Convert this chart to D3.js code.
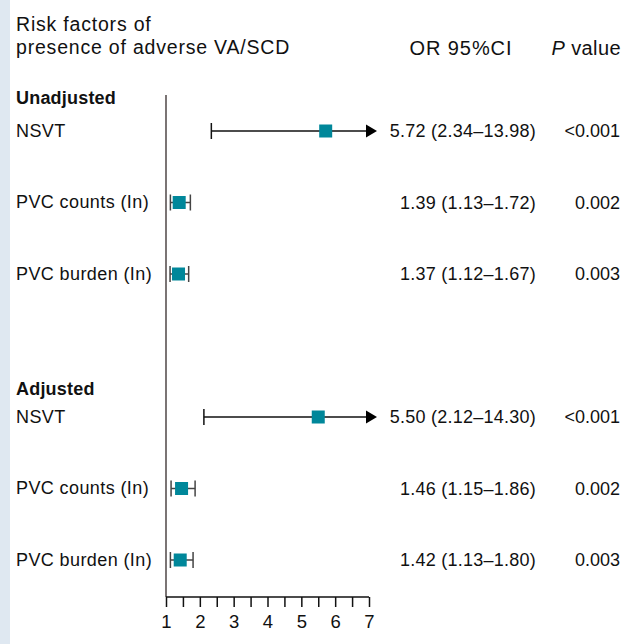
<!DOCTYPE html>
<html><head><meta charset="utf-8">
<script src="https://cdn.jsdelivr.net/npm/d3@7"></script>
<style>
html,body{margin:0;padding:0;background:#fff;}
svg{display:block;font-family:"Liberation Sans",Arial,sans-serif;}
</style></head>
<body>
<svg id="chart" width="622" height="644"></svg>
<script>
// ---- data ----
const groups = ["Unadjusted", "Adjusted"];
const factors = ["NSVT", "PVC counts (In)", "PVC burden (In)"];
const orUnadj = [5.72, 1.39, 1.37];
const lowUnadj = [2.34, 1.13, 1.12];
const highUnadj = [13.98, 1.72, 1.67];
const pUnadj = ["<0.001", "0.002", "0.003"];
const orAdj = [5.50, 1.46, 1.42];
const lowAdj = [2.12, 1.15, 1.13];
const highAdj = [14.30, 1.86, 1.80];
const pAdj = ["<0.001", "0.002", "0.003"];
const xTicks = [1, 1.5, 2, 2.5, 3, 3.5, 4, 4.5, 5, 5.5, 6, 6.5, 7];
const xTickLabels = ["1", "2", "3", "4", "5", "6", "7"];

const fmt = d3.format(".2f");
const rows = [];
[[orUnadj, lowUnadj, highUnadj, pUnadj], [orAdj, lowAdj, highAdj, pAdj]].forEach((g, gi) => {
  factors.forEach((f, i) => {
    rows.push({group: gi, label: f, or: g[0][i], lo: g[1][i], hi: g[2][i], p: g[3][i], idx: gi * 4 + i});
  });
});

const svg = d3.select("#chart");
const x = d3.scaleLinear().domain([1, 7]).range([166, 369]);
const y = d3.scaleLinear().domain([0, 6]).range([131, 560]);
const teal = "#00879a";
const ink = "#111";

// left strip
svg.append("rect").attr("x", 0).attr("y", 0).attr("width", 10).attr("height", 644).attr("fill", "#dfe8f1");

// title
const title = svg.append("text").attr("x", 16).attr("y", 31).attr("font-size", 19.5).attr("letter-spacing", 0.8).attr("fill", ink);
title.append("tspan").attr("x", 16).text("Risk factors of");
title.append("tspan").attr("x", 16).attr("dy", 22.5).text("presence of adverse VA/SCD");

svg.append("text").attr("x", 461).attr("y", 55).attr("font-size", 20).attr("letter-spacing", 0.9).attr("text-anchor", "middle").attr("fill", ink).text("OR 95%CI");
const ph = svg.append("text").attr("x", 621).attr("y", 55).attr("font-size", 20).attr("letter-spacing", 0.4).attr("text-anchor", "end").attr("fill", ink);
ph.append("tspan").attr("font-style", "italic").text("P");
ph.append("tspan").text(" value");

// group headers
const headerOffset = [27, 22];
groups.forEach((g, gi) => {
  svg.append("text").attr("x", 16).attr("y", y(gi * 4) - headerOffset[gi]).attr("font-size", 18).attr("letter-spacing", 0.2)
    .attr("font-weight", "bold").attr("fill", ink).text(g);
});

// vertical reference line
svg.append("line").attr("x1", x(1)).attr("x2", x(1)).attr("y1", 95).attr("y2", 597).attr("stroke", "#5a5252").attr("stroke-width", 1.6);

// x axis
const axis = d3.axisBottom(x).tickValues(xTicks).tickSize(10).tickPadding(8)
  .tickFormat(d => Number.isInteger(d) ? xTickLabels[d - 1] : "");
const ax = svg.append("g").attr("transform", "translate(0,597)").call(axis);
ax.select(".domain").attr("stroke", ink).attr("stroke-width", 1.5).attr("d", `M${x(1)},0H${x(7)}`);
ax.selectAll(".tick line").attr("stroke", ink).attr("stroke-width", 1.5);
ax.selectAll(".tick text").attr("font-size", 18.5).attr("fill", ink).attr("font-family", "Liberation Sans, Arial, sans-serif");

// row labels
svg.selectAll(".lab").data(rows).enter().append("text")
  .attr("x", 16).attr("y", d => y(d.idx) + 5.5).attr("font-size", 18).attr("letter-spacing", 0.4).attr("fill", ink).text(d => d.label);

// whiskers
const arrowEnd = 377;
rows.forEach(d => {
  const yy = y(d.idx);
  const over = d.hi > 7;
  const x1 = x(d.lo);
  const x2 = over ? arrowEnd - 11 : x(d.hi);
  const col = over ? "#111" : "#444";
  svg.append("line").attr("x1", x1).attr("x2", x2).attr("y1", yy).attr("y2", yy).attr("stroke", col).attr("stroke-width", 1.5);
  svg.append("line").attr("x1", x1).attr("x2", x1).attr("y1", yy - 8).attr("y2", yy + 8).attr("stroke", col).attr("stroke-width", 1.5);
  if (over) {
    svg.append("path").attr("d", `M${x2},${yy - 6.5}L${arrowEnd},${yy}L${x2},${yy + 6.5}Z`).attr("fill", "#000");
  } else {
    svg.append("line").attr("x1", x2).attr("x2", x2).attr("y1", yy - 8).attr("y2", yy + 8).attr("stroke", col).attr("stroke-width", 1.5);
  }
  svg.append("rect").attr("x", x(d.or) - 6.5).attr("y", yy - 6.5).attr("width", 13).attr("height", 13).attr("fill", teal);
});

// OR text and p values
svg.selectAll(".ortxt").data(rows).enter().append("text")
  .attr("x", 536).attr("y", d => y(d.idx) + 6).attr("font-size", 18).attr("letter-spacing", 0.25).attr("text-anchor", "end").attr("fill", ink)
  .text(d => `${fmt(d.or)} (${fmt(d.lo)}–${fmt(d.hi)})`);
svg.selectAll(".ptxt").data(rows).enter().append("text")
  .attr("x", 620).attr("y", d => y(d.idx) + 6).attr("font-size", 18).attr("text-anchor", "end").attr("fill", ink)
  .text(d => d.p);
</script>
</body></html>
